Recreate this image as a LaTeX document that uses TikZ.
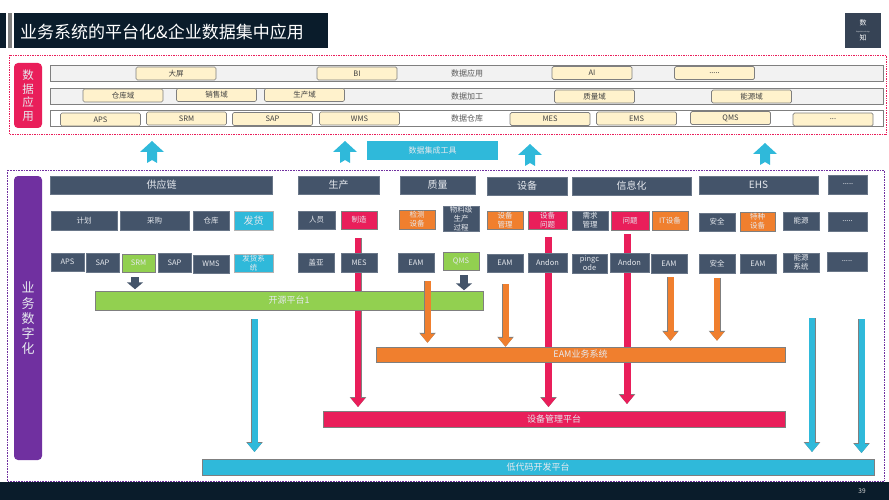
\documentclass[tikz,border=0pt]{standalone}
\usepackage{fontspec}
\setmainfont{Noto Sans CJK SC}
\usetikzlibrary{arrows.meta,backgrounds}
\definecolor{navy}{HTML}{0A1C2B}
\definecolor{slate}{HTML}{44546A}
\definecolor{crimson}{HTML}{E91E5A}
\definecolor{skyblue}{HTML}{2FB9DA}
\definecolor{leaf}{HTML}{92D050}
\definecolor{tangerine}{HTML}{F07F2E}
\definecolor{violet}{HTML}{7030A0}
\definecolor{cream}{HTML}{FFF2CC}
\definecolor{rim}{HTML}{7F7F7F}
\definecolor{paletext}{HTML}{E6E9EE}
\tikzset{
  size/.style 2 args={minimum width=#1pt,minimum height=#2pt,inner sep=0pt,outer sep=0pt,align=center},
  tiny/.style={font=\fontsize{7.5}{9}\selectfont},
  darkbox/.style={fill=slate,draw=slate!80,line width=.4pt,text=paletext,tiny},
  headbox/.style={darkbox,font=\fontsize{10}{12}\selectfont},
  hotbox/.style={fill=crimson,draw=rim,line width=.4pt,text=paletext,tiny},
  orangebox/.style={fill=tangerine,draw=rim,line width=.4pt,text=paletext,tiny},
  greenbox/.style={fill=leaf,draw=rim,line width=.5pt,text=paletext,tiny},
  bluebox/.style={fill=skyblue,draw=rim!60,line width=.4pt,text=paletext,tiny},
  rowbar/.style={fill=#1,draw=rim,line width=.7pt},
  chip/.style={fill=cream,draw=rim,line width=.7pt,rounded corners=1.5pt,text=black!75,tiny},
  rowtext/.style={inner sep=0pt,text=black!65,font=\fontsize{8}{10}\selectfont},
  platform/.style={draw=rim,line width=.5pt,text=paletext,font=\fontsize{9}{11}\selectfont,fill=#1},
  sidebar/.style={fill=#1,rounded corners=4pt,text=paletext,font=\fontsize{11.5}{13.5}\selectfont},
  fatarrow/.style={draw=#1,line width=6pt,shorten >=4pt,
    preaction={draw=rim,line width=7pt,-{Triangle[length=10pt,width=16pt]}},
    -{Triangle[fill=#1,color=#1,length=9pt,width=14pt]}},
  blockup/.pic={\fill[skyblue] (0,-11)--(12,0)--(5,0)--(5,11)--(0,8)--(-5,11)--(-5,0)--(-12,0)--cycle;},
}
\begin{document}
\begin{tikzpicture}[x=1pt,y=-1pt]
  \useasboundingbox (0,0) rectangle (889,500);

  % title and footer
  \fill[navy] (0,13) rectangle (6,48);
  \fill[rim] (8,13) rectangle (12,48);
  \fill[navy] (14,13) rectangle (328,48);
  \node[anchor=west,text=white,inner sep=0pt,font=\fontsize{17}{20}\selectfont] (title) at (20,32) {业务系统的平台化\&企业数据集中应用};
  \node[size={36}{35},fill=slate!80!black,text=white,font=\fontsize{7}{6}\selectfont] (logo) at (863,30.5) {数\\[1pt]{\fontsize{1.6}{2}\selectfont Digital Knowledge}\\[1pt]知};
  \fill[navy] (0,482) rectangle (889,500);
  \node[text=white!85!black,inner sep=0pt,font=\fontsize{6.5}{8}\selectfont] (pageno) at (862,491) {39};

  % data applications
  \draw[crimson,densely dotted,line width=.7pt] (9,55) rectangle (886,134);
  \node[size={28}{65},sidebar=crimson] (dataside) at (28,95.5) {数\\据\\应\\用};

  \node[size={833}{16},rowbar=black!5] (rowa) at (466.5,73) {};
  \node[size={833}{16},rowbar=black!5] (rowb) at (466.5,96) {};
  \node[size={833}{16},rowbar=white] (rowc) at (466.5,118.5) {};

  \node[chip,size={80}{13}] (dapin) at (176,73.5) {大屏};
  \node[chip,size={80}{13}] (bi) at (357,73.5) {BI};
  \node[rowtext] (yingyong) at (467,73) {数据应用};
  \node[chip,size={80}{13}] (ai) at (592,73) {AI};
  \node[chip,size={80}{13}] (dotsa) at (714.5,73) {.....};

  \node[chip,size={80}{13}] (cangku) at (123,95.5) {仓库域};
  \node[chip,size={80}{13}] (xiaoshou) at (216.5,95) {销售域};
  \node[chip,size={80}{13}] (shengchanyu) at (304.5,95) {生产域};
  \node[rowtext] (jiagong) at (467,96) {数据加工};
  \node[chip,size={80}{13}] (zhiliangyu) at (594.5,96.5) {质量域};
  \node[chip,size={80}{13}] (nengyuanyu) at (751.5,96.5) {能源域};

  \node[chip,size={80}{13}] (apsa) at (100.5,119.5) {APS};
  \node[chip,size={80}{13}] (srma) at (186.5,118.5) {SRM};
  \node[chip,size={80}{13}] (sapa) at (272.5,119) {SAP};
  \node[chip,size={80}{13}] (wmsa) at (359.5,118.5) {WMS};
  \node[rowtext] (cangkuzi) at (467,118) {数据仓库};
  \node[chip,size={80}{13}] (mesa) at (550,119) {MES};
  \node[chip,size={80}{13}] (emsa) at (636.5,118.5) {EMS};
  \node[chip,size={80}{13}] (qmsa) at (730.5,118) {QMS};
  \node[chip,size={80}{13}] (dotsb) at (833,119.5) {...};

  % arrows up and the integration tool
  \pic at (152,152) {blockup};
  \pic at (345,152) {blockup};
  \pic at (530,155) {blockup};
  \pic at (765,154) {blockup};
  \node[size={131}{19},fill=skyblue,text=paletext,font=\fontsize{8}{10}\selectfont] (jicheng) at (432.5,150.5) {数据集成工具};

  % business digitalisation
  \draw[violet,densely dotted,line width=.6pt] (7,170) rectangle (884,481);
  \node[size={28}{284},sidebar=violet] (bizside) at (28,318) {};
  \node[inner sep=0pt,text=paletext,align=center,font=\fontsize{13}{15.2}\selectfont] (bizname) at (28,318.5) {业\\务\\数\\字\\化};

  \node[headbox,size={222}{18}] (gongying) at (161.5,185) {供应链};
  \node[headbox,size={81}{18}] (shengchan) at (338.5,185) {生产};
  \node[headbox,size={75}{18}] (zhiliang) at (437.5,185) {质量};
  \node[headbox,size={80}{18}] (shebei) at (527,186) {设备};
  \node[headbox,size={119}{18}] (xinxi) at (631.5,186) {信息化};
  \node[headbox,size={119}{18}] (ehs) at (758.5,185) {EHS};
  \node[darkbox,size={39}{19}] (dotsc) at (848,184.5) {.....};

  \node[darkbox,size={66}{19}] (jihua) at (84,220.5) {计划};
  \node[darkbox,size={69}{19}] (caigou) at (154.5,220.5) {采购};
  \node[darkbox,size={36}{19}] (cangkub) at (211,220.5) {仓库};
  \node[bluebox,size={39}{19},font=\fontsize{10}{12}\selectfont] (fahuo) at (253.5,220.5) {发货};
  \node[darkbox,size={37}{18}] (renyuan) at (316.5,220) {人员};
  \node[hotbox,size={36}{18}] (zhizao) at (359,220) {制造};
  \node[orangebox,size={36}{19}] (jiance) at (417,219.5) {检测\\设备};
  \node[darkbox,size={36}{19}] (wuliao) at (461,218.5) {物料级\\生产\\过程};
  \node[orangebox,size={36}{18}] (guanli) at (505,220) {设备\\管理};
  \node[hotbox,size={39}{18}] (wenti) at (547.5,220) {设备\\问题};
  \node[darkbox,size={36}{19}] (xuqiu) at (590,220.5) {需求\\管理};
  \node[hotbox,size={38}{19}] (wentib) at (630,220.5) {问题};
  \node[orangebox,size={36}{19}] (itdev) at (670,220.5) {IT设备};
  \node[darkbox,size={36}{18}] (anquan) at (717,222) {安全};
  \node[orangebox,size={35}{19}] (tezhong) at (757.5,221.5) {特种\\设备};
  \node[darkbox,size={36}{18}] (nengyuan) at (801,221) {能源};
  \node[darkbox,size={39}{19}] (dotsd) at (847.5,221.5) {.....};

  \node[darkbox,size={33}{18}] (apsb) at (67.5,262) {APS};
  \node[darkbox,size={33}{19}] (sapb) at (102.5,262.5) {SAP};
  \node[greenbox,size={33}{18}] (srmb) at (138.5,263) {SRM};
  \node[darkbox,size={33}{19}] (sapc) at (174.5,262.5) {SAP};
  \node[darkbox,size={36}{18}] (wmsb) at (211,264) {WMS};
  \node[bluebox,size={39}{18}] (fahuoxt) at (253.5,263) {发货系\\统};
  \node[darkbox,size={36}{19}] (gaiya) at (316,262.5) {盖亚};
  \node[darkbox,size={36}{19}] (mesb) at (359,262.5) {MES};
  \node[darkbox,size={36}{19}] (eama) at (416,262.5) {EAM};
  \node[greenbox,size={36}{18}] (qmsb) at (461,261) {QMS};
  \node[darkbox,size={36}{18}] (eamb) at (505,263) {EAM};
  \node[darkbox,size={39}{19}] (andona) at (547.5,262.5) {Andon};
  \node[darkbox,size={35}{19}] (pingcode) at (589.5,263.5) {pingc\\ode};
  \node[darkbox,size={39}{19}] (andonb) at (629.5,262.5) {Andon};
  \node[darkbox,size={36}{19}] (eamc) at (669,263.5) {EAM};
  \node[darkbox,size={36}{19}] (anquanb) at (717,263.5) {安全};
  \node[darkbox,size={36}{19}] (eamd) at (758,263.5) {EAM};
  \node[darkbox,size={36}{19}] (nengyuanxt) at (801,262.5) {能源\\系统};
  \node[darkbox,size={40}{19}] (dotse) at (847,261.5) {.....};

  % platforms
  \node[platform=leaf,size={388}{18.5}] (kaiyuan) at (289,300.5) {开源平台1};
  \node[platform=tangerine,size={409}{15.5}] (eamplat) at (580.5,354.5) {EAM业务系统};
  \node[platform=crimson,size={462}{16}] (shebeiplat) at (554,419) {设备管理平台};
  \node[platform=skyblue,size={672}{16}] (didaima) at (538,467) {低代码开发平台};

  % connector starts
  \coordinate (reda) at (358,238);
  \coordinate (redb) at (548.5,237);
  \coordinate (redc) at (627,234);
  \coordinate (orangea) at (427.5,281);
  \coordinate (orangeb) at (505.5,284);
  \coordinate (orangec) at (670.5,277);
  \coordinate (oranged) at (717,278);
  \coordinate (bluea) at (254.5,319);
  \coordinate (blueb) at (812,318);
  \coordinate (bluec) at (861.5,319);
  \coordinate (sinka) at (135,277);
  \coordinate (sinkb) at (464,275);

  \begin{scope}[on background layer]
    \draw[fatarrow=crimson] (reda) -- (reda |- shebeiplat.north);
    \draw[fatarrow=crimson,line width=7pt] (redb) -- (redb |- shebeiplat.north);
    \draw[fatarrow=crimson,line width=7pt,shorten >=7pt] (redc) -- (redc |- shebeiplat.north);
  \end{scope}

  \draw[fatarrow=tangerine] (orangea) -- (orangea |- eamplat.north);
  \draw[fatarrow=tangerine,shorten >=0pt] (orangeb) -- (orangeb |- eamplat.north);
  \draw[fatarrow=tangerine,shorten >=6pt] (orangec) -- (orangec |- eamplat.north);
  \draw[fatarrow=tangerine,shorten >=6pt] (oranged) -- (oranged |- eamplat.north);
  \draw[fatarrow=skyblue,shorten >=7pt] (bluea) -- (bluea |- didaima.north);
  \draw[fatarrow=skyblue,shorten >=7pt] (blueb) -- (blueb |- didaima.north);
  \draw[fatarrow=skyblue,shorten >=6pt] (bluec) -- (bluec |- didaima.north);

  \draw[slate,line width=8pt,shorten >=2pt,-{Triangle[length=7pt,width=16pt]}] (sinka) -- (sinka |- kaiyuan.north);
  \draw[slate,line width=8pt,shorten >=1pt,-{Triangle[length=7pt,width=16pt]}] (sinkb) -- (sinkb |- kaiyuan.north);

\end{tikzpicture}
\end{document}
